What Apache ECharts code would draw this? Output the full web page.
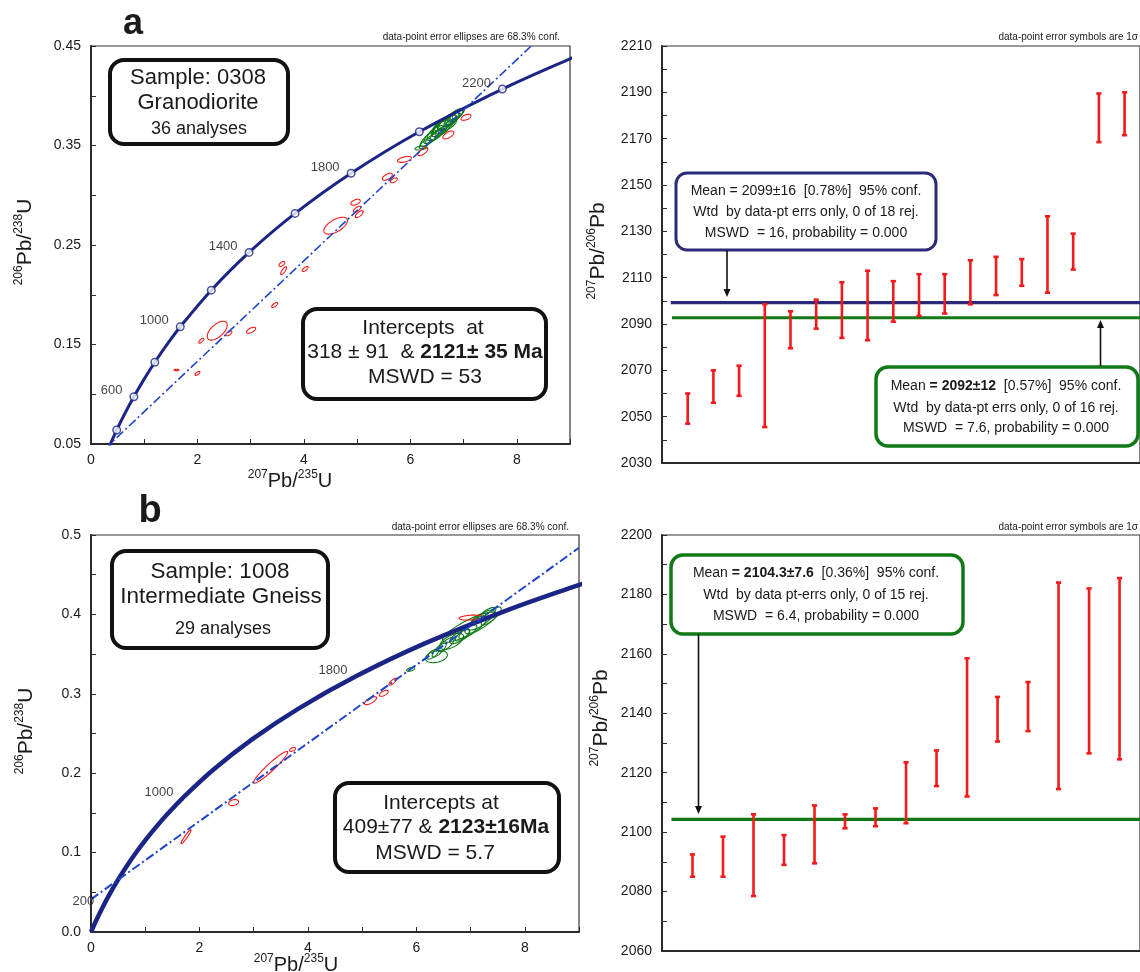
<!DOCTYPE html>
<html><head><meta charset="utf-8">
<script src="https://cdn.jsdelivr.net/npm/echarts@6/dist/echarts.min.js"></script>
<style>html,body{margin:0;padding:0;background:#fff}#c{width:1140px;height:972px}</style>
</head><body><div id="c"></div><script>
// ---------- data ----------
// Concordia reference points (age in Ma, 207Pb/235U, 206Pb/238U)
const concAges = [0,50,100,200,300,400,500,600,700,800,900,1000,1200,1400,1600,1800,2000,2200,2338,2400];
const concX = [0,0.05048,0.10350,0.21771,0.34374,0.48281,0.63628,0.80563,0.99251,1.19873,1.42630,1.67741,2.26030,2.97009,3.83441,4.88690,6.16853,7.72915,9.0,9.62957];
const concY = [0,0.00779,0.01563,0.03151,0.04764,0.06402,0.08065,0.09754,0.11470,0.13213,0.14983,0.16780,0.20460,0.24256,0.28172,0.32210,0.36377,0.40674,0.43718,0.45107];
const markerAgesA = [400,600,800,1000,1200,1400,1600,1800,2000,2200];
const labelAgesA = [600,1000,1400,1800,2200];
const labelAgesB = [200,1000,1800];
// discordia end points
const discordA = [[0.25,0.0446],[8.40,0.4565]];
const discordB = [[0,0.0411],[9,0.4839]];
// error ellipses: [x, y, sigmaX, sigmaY, rho]
const ellA_red = [[4.597,0.2694,0.222,0.0085,0.6],[4.97,0.293,0.088,0.0030,0.5],[5.00,0.286,0.070,0.0030,0.7],[5.04,0.281,0.075,0.0035,0.7],[5.568,0.3186,0.094,0.0035,0.6],[5.69,0.315,0.066,0.0025,0.6],[5.89,0.336,0.13,0.0030,0.5],[6.235,0.3438,0.094,0.0040,0.7],[6.715,0.3606,0.103,0.0040,0.6],[7.045,0.3783,0.094,0.0030,0.5],[3.587,0.2309,0.056,0.0025,0.6],[3.619,0.2242,0.056,0.0040,0.8],[4.024,0.2259,0.056,0.0025,0.7],[3.45,0.1897,0.056,0.0025,0.7],[2.372,0.1639,0.188,0.0095,0.6],[2.073,0.1538,0.047,0.0025,0.7],[2.59,0.1612,0.056,0.0025,0.6],[3.008,0.1643,0.085,0.0030,0.6],[1.606,0.1244,0.047,0.0007,0.0],[2.0,0.121,0.047,0.0020,0.7]];
const ellA_green = [[6.28,0.352,0.113,0.0050,0.75],[6.36,0.357,0.169,0.0080,0.78],[6.44,0.361,0.188,0.0090,0.8],[6.52,0.365,0.207,0.0100,0.8],[6.58,0.368,0.188,0.0090,0.78],[6.64,0.370,0.226,0.0110,0.8],[6.68,0.373,0.169,0.0080,0.75],[6.72,0.375,0.188,0.0090,0.8],[6.78,0.376,0.150,0.0070,0.75],[6.82,0.379,0.169,0.0080,0.78],[6.86,0.380,0.132,0.0060,0.75],[6.60,0.365,0.132,0.0050,0.7],[6.50,0.361,0.132,0.0060,0.75],[6.40,0.357,0.113,0.0050,0.75],[6.90,0.382,0.113,0.0050,0.75],[6.20,0.3475,0.113,0.0020,0.4],[6.74,0.371,0.132,0.0060,0.75],[6.56,0.370,0.150,0.0070,0.8]];
const ellB_red = [[1.753,0.120,0.092,0.0088,0.95],[2.63,0.163,0.092,0.0038,0.3],[3.313,0.2074,0.314,0.0200,0.95],[3.718,0.230,0.055,0.0025,0.5],[5.155,0.2913,0.111,0.0050,0.7],[5.40,0.3006,0.083,0.0038,0.6],[5.567,0.3153,0.074,0.0044,0.8],[7.0,0.396,0.212,0.0031,0.3]];
const ellB_green = [[5.895,0.3308,0.074,0.0025,0.5],[6.37,0.3468,0.203,0.0076,0.3],[6.42,0.355,0.129,0.0088,0.8],[6.55,0.362,0.148,0.0088,0.75],[6.65,0.366,0.221,0.0101,0.6],[6.80,0.372,0.185,0.0088,0.7],[6.95,0.378,0.166,0.0088,0.75],[6.98,0.384,0.498,0.0189,0.85],[7.10,0.387,0.203,0.0113,0.75],[7.20,0.393,0.240,0.0126,0.8],[7.30,0.400,0.166,0.0088,0.75],[7.15,0.395,0.129,0.0063,0.7],[6.85,0.374,0.129,0.0076,0.75],[7.38,0.398,0.185,0.0113,0.8],[6.30,0.350,0.111,0.0063,0.7]];
// 207Pb/206Pb ages (1 sigma error bars)
const barsA_low  = [2047,2056,2059,2045.5,2079.5,2088,2084,2083,2091,2093.5,2094.5,2098.5,2102.5,2106.5,2103.5,2113.5,2168.5,2171.5];
const barsA_high = [2060,2070,2072,2098.5,2095.5,2100.5,2108,2113,2108.5,2111.5,2111.5,2117.5,2119,2118,2136.5,2129,2189.5,2190];
const meanA_all = 2099.2, meanA_sel = 2092.7;
const barsB_low  = [2085,2085,2078.5,2089,2089.5,2101.3,2102,2103,2115.5,2112,2130.5,2134,2114.5,2126.5,2124.5];
const barsB_high = [2092.5,2098.5,2106,2099,2109,2106,2108,2123.5,2127.5,2158.5,2145.5,2150.5,2184,2182,2185.5];
const meanB = 2104.3;

// ---------- styling ----------
const FF = 'Liberation Sans, Arial, sans-serif';
const NAVY = '#1b2586', DBLUE = '#2a2a78', DISC = '#1f45c9', RED = '#f21a1a', GREEN = '#117a17', INK = '#1a1a1a';

const conc = concX.map((x,i)=>[x, concY[i]]);
const ageIdx = a => concAges.indexOf(a);

function ellipseRender(color){
  return function(params, api){
    const cx=api.value(0), cy=api.value(1), sx=api.value(2), sy=api.value(3), r=api.value(4);
    const q=Math.sqrt(1-r*r); const pts=[];
    for(let k=0;k<64;k++){const t=k/64*2*Math.PI; pts.push(api.coord([cx+sx*Math.cos(t), cy+sy*(r*Math.cos(t)+q*Math.sin(t))]));}
    return {type:'polygon', shape:{points:pts}, style:{fill:'none', stroke:color, lineWidth:1.1}};
  };
}
function barRender(params, api){
  const x=api.value(0), lo=api.value(1), hi=api.value(2);
  const p1=api.coord([x,lo]), p2=api.coord([x,hi]); const w=2.6;
  const st={stroke:RED, lineWidth:2.6};
  return {type:'group', children:[
    {type:'line', shape:{x1:p1[0],y1:p1[1],x2:p2[0],y2:p2[1]}, style:st},
    {type:'line', shape:{x1:p1[0]-w,y1:p1[1],x2:p1[0]+w,y2:p1[1]}, style:st},
    {type:'line', shape:{x1:p2[0]-w,y1:p2[1],x2:p2[0]+w,y2:p2[1]}, style:st}
  ]};
}
function valX(gi, max){
  return {gridIndex:gi, type:'value', min:0, max:max, interval:1,
    axisLine:{show:true, onZero:false, lineStyle:{color:'#2a2a2a', width:2}},
    axisTick:{show:true, inside:true, length:5, lineStyle:{color:'#2a2a2a', width:1}},
    axisLabel:{fontFamily:FF, fontSize:14, color:INK, margin:9, formatter:v=>(Math.round(v)%2===0?String(Math.round(v)):'')},
    splitLine:{show:false}};
}
function hidX(gi, max){
  return {gridIndex:gi, type:'value', min:0, max:max, interval:max,
    axisLine:{show:true, onZero:false, lineStyle:{color:'#2a2a2a', width:2}},
    axisTick:{show:false}, axisLabel:{show:false}, splitLine:{show:false}};
}
function valY(gi, min, max, interval, fmt){
  return {gridIndex:gi, type:'value', min:min, max:max, interval:interval,
    axisLine:{show:true, onZero:false, lineStyle:{color:'#2a2a2a', width:2}},
    axisTick:{show:true, inside:true, length:5, lineStyle:{color:'#2a2a2a', width:1}},
    axisLabel:{fontFamily:FF, fontSize:14, color:INK, margin:10, formatter:fmt},
    splitLine:{show:false}};
}

// ---------- graphic helpers ----------
const G = [];
function txt(x,y,text,size,opts={}){
  G.push({type:'text', x:x, y:y, rotation:opts.rot||0, z:100,
    style:Object.assign({text:text, fill:opts.fill||INK, fontFamily:FF, fontSize:size, fontWeight:opts.bold?'bold':'normal', align:opts.align||'center', verticalAlign:'middle'}, opts.rich?{rich:opts.rich}:{})});
}
function box(x,y,w,h,color,lw,r){
  G.push({type:'rect', z:90, shape:{x:x,y:y,width:w,height:h,r:r}, style:{fill:'#fff', stroke:color, lineWidth:lw}});
}
function arrow(x,y1,y2){
  const dir = y2>y1?1:-1;
  G.push({type:'line', z:95, shape:{x1:x,y1:y1,x2:x,y2:y2-dir*7}, style:{stroke:'#111', lineWidth:1.6}});
  G.push({type:'polygon', z:95, shape:{points:[[x,y2],[x-3.5,y2-dir*8],[x+3.5,y2-dir*8]]}, style:{fill:'#111'}});
}
function richTitle(parts){
  return parts.map(p=>'{'+(p[1]?'s':'m')+'|'+p[0]+'}').join('');
}
const titleRich = {m:{fontFamily:FF, fontSize:21, fill:INK, lineHeight:24}, s:{fontFamily:FF, fontSize:12, fill:INK, verticalAlign:'top', lineHeight:12}};
const xTitleRich = {m:{fontFamily:FF, fontSize:20, fill:INK, lineHeight:24}, s:{fontFamily:FF, fontSize:12, fill:INK, verticalAlign:'top', lineHeight:12}};
const t206238 = richTitle([['206',1],['Pb/',0],['238',1],['U',0]]);
const t207235 = richTitle([['207',1],['Pb/',0],['235',1],['U',0]]);
const t207206 = richTitle([['207',1],['Pb/',0],['206',1],['Pb',0]]);

// panel letters
txt(133,24,'a',36,{bold:true}); txt(150,512,'b',38,{bold:true});
// top notes
txt(560,37,'data-point error ellipses are 68.3% conf.',10,{align:'right'});
txt(569,527,'data-point error ellipses are 68.3% conf.',10,{align:'right'});
txt(1138,37,'data-point error symbols are 1\u03c3',10,{align:'right'});
txt(1138,527,'data-point error symbols are 1\u03c3',10,{align:'right'});
// axis titles
txt(25,242,t206238,21,{rot:Math.PI/2, rich:titleRich});
txt(26,731,t206238,21,{rot:Math.PI/2, rich:titleRich});
txt(598,251,t207206,21,{rot:Math.PI/2, rich:titleRich});
txt(601,718,t207206,21,{rot:Math.PI/2, rich:titleRich});
txt(290,481,t207235,20,{rich:xTitleRich});
txt(296,965,t207235,20,{rich:xTitleRich});

// sample boxes
box(110,60,178,84,'#111',4,14);
txt(198,78,'Sample: 0308',22); txt(198,103,'Granodiorite',22); txt(199,129,'36 analyses',18);
box(112,551,216,97,'#111',4,14);
txt(220,572,'Sample: 1008',22.5); txt(221,597,'Intermediate Gneiss',22.5); txt(223,629,'29 analyses',18);
// intercept boxes
const bRich = s=>({n:{fontFamily:FF,fontSize:s,fill:INK}, b:{fontFamily:FF,fontSize:s,fill:INK,fontWeight:'bold'}});
box(303,309,243,90,'#111',4,14);
txt(423,328,'Intercepts  at',21); txt(425,352,'{n|318 \u00b1 91  & }{b|2121\u00b1 35 Ma}',21,{rich:bRich(21)}); txt(425,377,'MSWD = 53',21);
box(335,783,224,89,'#111',4,14);
txt(441,803,'Intercepts at',21); txt(446,827,'{n|409\u00b177 & }{b|2123\u00b116Ma}',21,{rich:bRich(21)}); txt(435,853,'MSWD = 5.7',21);
// mean boxes
box(676,173,260,77,DBLUE,3,11);
txt(806,191,'Mean = 2099\u00b116  [0.78%]  95% conf.',14); txt(806,212,'Wtd  by data-pt errs only, 0 of 18 rej.',14); txt(806,233,'MSWD  = 16, probability = 0.000',14);
arrow(727,250,297);
box(876,367,262,79,GREEN,3.5,12);
txt(1006,386,'{n|Mean }{b|= 2092\u00b112}{n|  [0.57%]  95% conf.}',14,{rich:bRich(14)}); txt(1006,408,'Wtd  by data-pt errs only, 0 of 16 rej.',14); txt(1006,428,'MSWD  = 7.6, probability = 0.000',14);
arrow(1100.5,366,320);
box(671,555,292,79,GREEN,3.5,12);
txt(816,573,'{n|Mean }{b|= 2104.3\u00b17.6}{n|  [0.36%]  95% conf.}',14,{rich:bRich(14)}); txt(816,595,'Wtd  by data pt-errs only, 0 of 15 rej.',14); txt(816,616,'MSWD  = 6.4, probability = 0.000',14);
arrow(698.5,634,814);

// ---------- chart ----------
const chart = echarts.init(document.getElementById('c'), null, {renderer:'canvas'});
const gridStyle = {show:true, borderColor:'#333', borderWidth:1.2, backgroundColor:'transparent'};
const labelFmtOdd = v => (Math.round(v*100)%10===5 ? v.toFixed(2) : '');
const labelFmtEven = v => (Math.round(v*100)%10===0 ? v.toFixed(1) : '');

const markerData = markerAgesA.map(a=>({value:[concX[ageIdx(a)], concY[ageIdx(a)]], label:{show:labelAgesA.includes(a), formatter:String(a)}}));
const labelBData = labelAgesB.map(a=>({value:[concX[ageIdx(a)], concY[ageIdx(a)]], label:{show:true, formatter:String(a)}}));
const barsA = barsA_low.map((lo,i)=>[i+1, lo, barsA_high[i]]);
const barsB = barsB_low.map((lo,i)=>[i+1, lo, barsB_high[i]]);

chart.setOption({
  animation:false,
  backgroundColor:'#fff',
  grid:[
    Object.assign({left:91, top:46, width:479, height:398}, gridStyle),
    Object.assign({left:91, top:535, width:488, height:397}, gridStyle),
    Object.assign({left:662, top:46, width:480, height:417}, gridStyle),
    Object.assign({left:662, top:535, width:480, height:416}, gridStyle)
  ],
  xAxis:[valX(0,9), valX(1,9), hidX(2,18.6), hidX(3,15.67)],
  yAxis:[
    valY(0,0.05,0.45,0.05,labelFmtOdd),
    valY(1,0,0.5,0.05,labelFmtEven),
    valY(2,2030,2210,10,v=>((Math.round(v)-2030)%20===0?String(Math.round(v)):'')),
    valY(3,2060,2200,10,v=>((Math.round(v)-2060)%20===0?String(Math.round(v)):''))
  ],
  graphic:G,
  series:[
    // panel a
    {type:'custom', xAxisIndex:0, yAxisIndex:0, renderItem:ellipseRender(GREEN), data:ellA_green, encode:{x:0,y:1}, clip:true, silent:true},
    {type:'custom', xAxisIndex:0, yAxisIndex:0, renderItem:ellipseRender(RED), data:ellA_red, encode:{x:0,y:1}, clip:true, silent:true},
    {type:'line', xAxisIndex:0, yAxisIndex:0, data:conc, smooth:0.35, symbol:'none', clip:true, lineStyle:{color:NAVY, width:3}},
    {type:'line', xAxisIndex:0, yAxisIndex:0, data:discordA, symbol:'none', clip:true, lineStyle:{color:DISC, width:1.6, type:[9,3,2,3]}},
    {type:'scatter', xAxisIndex:0, yAxisIndex:0, data:markerData, symbol:'circle', symbolSize:7.5, z:5,
      itemStyle:{color:'#fff', borderColor:NAVY, borderWidth:1.5},
      label:{position:'left', distance:7, offset:[0,-6], fontFamily:FF, fontSize:13, color:'#111'}},
    // panel b
    {type:'custom', xAxisIndex:1, yAxisIndex:1, renderItem:ellipseRender(GREEN), data:ellB_green, encode:{x:0,y:1}, clip:true, silent:true},
    {type:'custom', xAxisIndex:1, yAxisIndex:1, renderItem:ellipseRender(RED), data:ellB_red, encode:{x:0,y:1}, clip:true, silent:true},
    {type:'line', xAxisIndex:1, yAxisIndex:1, data:conc, smooth:0.35, symbol:'none', clip:true, lineStyle:{color:NAVY, width:4.5}},
    {type:'line', xAxisIndex:1, yAxisIndex:1, data:discordB, symbol:'none', clip:true, lineStyle:{color:DISC, width:2, type:[9,3,2,3]}},
    {type:'scatter', xAxisIndex:1, yAxisIndex:1, data:labelBData, symbolSize:1, itemStyle:{color:'rgba(0,0,0,0)'}, z:5,
      label:{position:'left', distance:8, offset:[0,-6], fontFamily:FF, fontSize:13, color:'#111'}},
    // panel a right
    {type:'line', xAxisIndex:2, yAxisIndex:2, data:[[0.34,meanA_all],[18.6,meanA_all]], symbol:'none', lineStyle:{color:DBLUE, width:3.2}},
    {type:'line', xAxisIndex:2, yAxisIndex:2, data:[[0.39,meanA_sel],[18.6,meanA_sel]], symbol:'none', lineStyle:{color:GREEN, width:3.2}},
    {type:'custom', xAxisIndex:2, yAxisIndex:2, renderItem:barRender, data:barsA, encode:{x:0,y:[1,2]}, z:4},
    // panel b right
    {type:'line', xAxisIndex:3, yAxisIndex:3, data:[[0.31,meanB],[15.67,meanB]], symbol:'none', lineStyle:{color:GREEN, width:3.2}},
    {type:'custom', xAxisIndex:3, yAxisIndex:3, renderItem:barRender, data:barsB, encode:{x:0,y:[1,2]}, z:4}
  ]
});
</script></body></html>
